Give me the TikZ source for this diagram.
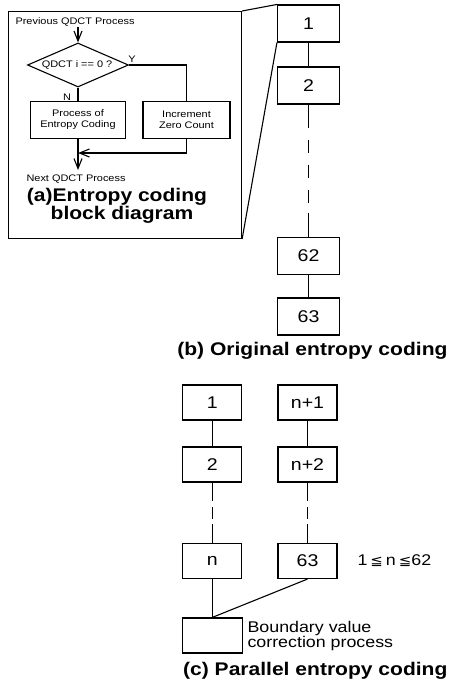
\documentclass[tikz,border=0pt]{standalone}
\usepackage{fontspec}
\usepackage{graphicx}
\setmainfont{Liberation Sans}
\newfontfamily\symfont{DejaVu Sans}
\usetikzlibrary{arrows.meta,shapes.geometric,calc}
% slightly widened lettering
\newcommand{\sx}[1]{\scalebox{1.15}[1]{#1}}
\newcommand{\leqq}{{\symfont\fontsize{13}{13}\selectfont ≦}}

\begin{document}
\begin{tikzpicture}[x=1pt,y=-1pt,line width=1.1pt,
  small/.style={font=\fontsize{9.5}{11}\selectfont,inner sep=0pt},
  label/.style={font=\fontsize{15.5}{15.5}\selectfont,inner sep=0pt},
  caption/.style={font=\bfseries\fontsize{18.3}{18.3}\selectfont,inner sep=0pt},
  flowbox/.style={draw,inner sep=0pt,minimum height=37pt,align=center,
    font=\fontsize{9.5}{11}\selectfont},
  numbox/.style={draw,inner sep=0pt,minimum width=62pt,minimum height=37pt,
    font=\fontsize{17}{17}\selectfont},
  parbox/.style={draw,inner sep=0pt,minimum width=59pt,minimum height=35pt,
    font=\fontsize{17}{17}\selectfont},
  flow/.style={-{Straight Barb[length=10pt,width=8pt]}},
  longgap/.style={dash pattern=on 13pt off 12pt,dash phase=13pt},
  shortgap/.style={dash pattern=on 12pt off 6.5pt,dash phase=12pt}]

\useasboundingbox (0,0) rectangle (451,693);
\fill[white] (0,0) rectangle (451,693);

% ---------- (a) flow chart of the entropy coder ----------
\node[draw,inner sep=0pt,minimum width=233pt,minimum height=227pt,
      anchor=north west] (frameA) at (8,11) {};
\node[small,anchor=west] (prev) at (15,22) {\sx{Previous QDCT Process}};
\coordinate (prevout) at (78,27.5);
\node[draw,diamond,inner sep=0pt,minimum width=101pt,minimum height=44pt]
      (test) at (78,65) {};
\node[small] (testtxt) at (77,65) {\sx{QDCT i == 0 ?}};
\node[small] (yes) at (132,59) {\sx{Y}};
\node[small] (no) at (67,97) {\sx{N}};
\node[flowbox,minimum width=95pt] (proc) at (78,120)
      {\sx{Process of}\\\sx{Entropy Coding}};
\node[flowbox,minimum width=87pt] (inc) at (186.5,120)
      {\sx{Increment}\\\sx{Zero Count}};
\coordinate (merge) at (78,153);
\coordinate (nextin) at (78,170);
\node[small,anchor=west] (next) at (26,179) {\sx{Next QDCT Process}};

\draw[flow] (prevout) -- (test.north);
\draw (test.east) -| (inc.north);
\draw (test.south) -- (proc.north);
\draw[flow] (proc.south) -- (nextin);
\draw[flow] (inc.south) |- (merge);

\node[caption] (capA1) at (117,197) {\sx{(a)Entropy coding}};
\node[caption] (capA2) at (122,215) {\sx{block diagram}};

% ---------- (b) sequential coding ----------
\node[numbox] (b1) at (308.5,23.5) {\sx{1}};
\node[numbox] (b2) at (308.5,85.5) {\sx{2}};
\node[numbox] (b62) at (308.5,256) {\sx{62}};
\node[numbox] (b63) at (308.5,316.5) {\sx{63}};

\draw (frameA.north east) -- (b1.north west);
\draw (frameA.south east) -- (b1.south west);
\draw (b1) -- (b2);
\draw (b62) -- (b63);
\coordinate (b2s) at ($(b2.south)+(0,23)$);
\coordinate (b62n) at ($(b62.north)+(0,-24)$);
\draw (b2.south) -- (b2s) (b62n) -- (b62.north);
\draw[longgap] (b2s) -- (b62n);

\node[caption,anchor=east] (capB) at (448,351) {\sx{(b) Original entropy coding}};

% ---------- (c) two coders in parallel ----------
\node[parbox] (c1) at (212.2,402.5) {\sx{1}};
\node[parbox] (c2) at (212.2,464.5) {\sx{2}};
\node[parbox] (cn) at (212.2,561) {\sx{n}};
\node[parbox] (d1) at (307.5,402.5) {\sx{n+1}};
\node[parbox] (d2) at (307.5,464.5) {\sx{n+2}};
\node[parbox] (d63) at (307.5,561) {\sx{63}};
\node[parbox,minimum width=60pt] (bnd) at (212.2,635.5) {};

\draw (c1) -- (c2);
\draw (d1) -- (d2);
\coordinate (c2s) at ($(c2.south)+(0,18)$);
\coordinate (cnn) at ($(cn.north)+(0,-19)$);
\coordinate (d2s) at ($(d2.south)+(0,18)$);
\coordinate (d63n) at ($(d63.north)+(0,-19)$);
\draw (c2.south) -- (c2s) (cnn) -- (cn.north);
\draw (d2.south) -- (d2s) (d63n) -- (d63.north);
\draw[shortgap] (c2s) -- (cnn);
\draw[shortgap] (d2s) -- (d63n);
\draw (cn.south) -- (bnd.north);
\draw (d63.south) -- (bnd.north);

\node[label,anchor=west] (range) at (357,561)
      {\sx{1\,\leqq\,n\,\leqq62}};
\node[label,anchor=west,align=left] (bndtxt) at (247,636)
      {\sx{Boundary value}\\\sx{correction process}};

\node[caption,anchor=east] (capC) at (448,671) {\sx{(c) Parallel entropy coding}};
\end{tikzpicture}
\end{document}
